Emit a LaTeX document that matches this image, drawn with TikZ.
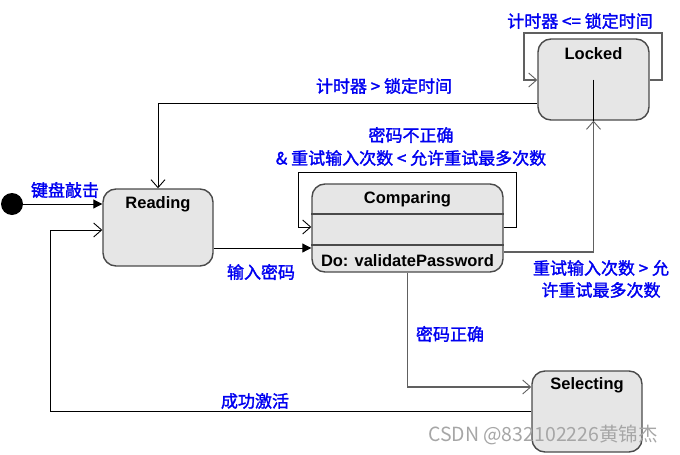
\documentclass[tikz,border=0pt]{standalone}
\usepackage{fontspec}
\setmainfont{Liberation Sans}
\newfontfamily\cjk[AutoFakeBold=1.6]{Noto Sans CJK SC}
\newfontfamily\cjkw{Noto Sans CJK SC}
\usetikzlibrary{arrows.meta}
\definecolor{boxfill}{HTML}{E6E6E6}
\definecolor{boxline}{HTML}{4A4A4A}
\definecolor{lblue}{HTML}{0000F0}
\definecolor{gline}{HTML}{606060}
\tikzset{
  state/.style={draw=boxline, line width=1.4pt, fill=boxfill, rounded corners=13pt, inner sep=0pt},
  stitle/.style={font=\fontsize{16.5}{18}\selectfont\bfseries, inner sep=0pt},
  lbl/.style={text=lblue, font=\fontsize{17}{22}\selectfont\cjk\bfseries, inner sep=0pt, align=center},
  openar/.style={-{Straight Barb[length=8pt,width=14pt,line width=0.9pt]}},
  filledar/.style={-{Triangle[length=9pt,width=9pt]}},
  blk/.style={draw=black, line width=1pt},
  gry/.style={draw=gline, line width=1.6pt},
}
\begin{document}
\begin{tikzpicture}[x=1pt,y=-1pt]
\useasboundingbox (0,0) rectangle (680,455);
% states
\node[state, minimum width=110pt, minimum height=77pt] (Reading) at (158,227.5) {};
\node[stitle] (ReadingT) at (158,204) {Reading};
\node[state, minimum width=191pt, minimum height=88pt] (Comparing) at (407.5,228) {};
\node[stitle] (ComparingT) at (407.5,199) {Comparing};
\node[stitle] (ComparingD) at (407.5,261) {Do: validatePassword};
\draw[boxline, line width=1.4pt] (Comparing.west |- 0,214) -- (Comparing.east |- 0,214);
\draw[boxline, line width=1.4pt] (Comparing.west |- 0,245) -- (Comparing.east |- 0,245);
\node[state, minimum width=111pt, minimum height=81pt] (Locked) at (593.5,79.5) {};
\node[stitle] (LockedT) at (593.5,54) {Locked};
\node[state, minimum width=110pt, minimum height=81pt] (Selecting) at (587,411.5) {};
\node[stitle] (SelectingT) at (587,385) {Selecting};
% initial
\node[circle, fill=black, minimum size=22pt, inner sep=0pt] (init) at (12,204) {};
% coordinates
\coordinate (yInit) at (0,204);
\coordinate (yRC) at (0,248);
\coordinate (yLR) at (0,103);
\coordinate (yLL) at (0,80);
\coordinate (lkTR) at (662,33);
\coordinate (lkTL) at (524,33);
\coordinate (yCL) at (0,227);
\coordinate (cpTR) at (516,172);
\coordinate (cpTL) at (298,172);
\coordinate (yCK) at (0,252);
\coordinate (yCS) at (0,387);
\coordinate (ySR) at (0,411);
\coordinate (retL) at (50,230);
% connectors
\draw[blk, filledar] (init) -- (Reading.west |- yInit);
\draw[blk, filledar] (Reading.east |- yRC) -- (Comparing.west |- yRC);
\draw[blk, openar] (Locked.west |- yLR) -| (Reading.north);
\draw[gry, openar] (Locked.east |- yLL) -| (lkTR) -- (lkTL) |- (Locked.west |- yLL);
\draw[blk, openar] (Comparing.east |- yCL) -| (cpTR) -- (cpTL) |- (Comparing.west |- yCL);
\draw[gry, openar] (Comparing.east |- yCK) -| (Locked.south);
\draw[blk] (Locked.center) -- (Locked.south);
\draw[gry, openar] (Comparing.south) |- (Selecting.west |- yCS);
\draw[blk, openar] (Selecting.west |- ySR) -| (retL) -- (Reading.west |- retL);
% labels
\node[lbl] (l1) at (65,190) {键盘敲击};
\node[lbl] (l2) at (384,86) {计时器 > 锁定时间};
\node[lbl] (l3) at (580,21) {计时器 <= 锁定时间};
\node[lbl] (l4) at (411,135) {密码不正确};
\node[lbl] (l5) at (411,158) {\& 重试输入次数 < 允许重试最多次数};
\node[lbl] (l6) at (261,272) {输入密码};
\node[lbl] (l7) at (601,279) {重试输入次数 > 允\\许重试最多次数};
\node[lbl] (l8) at (450,334) {密码正确};
\node[lbl] (l9) at (255,401) {成功激活};
\node[text=black!35, font=\fontsize{19.5}{22}\selectfont\cjkw, inner sep=0pt] (wm) at (543,435) {CSDN @832102226黄锦杰};
\end{tikzpicture}
\end{document}
